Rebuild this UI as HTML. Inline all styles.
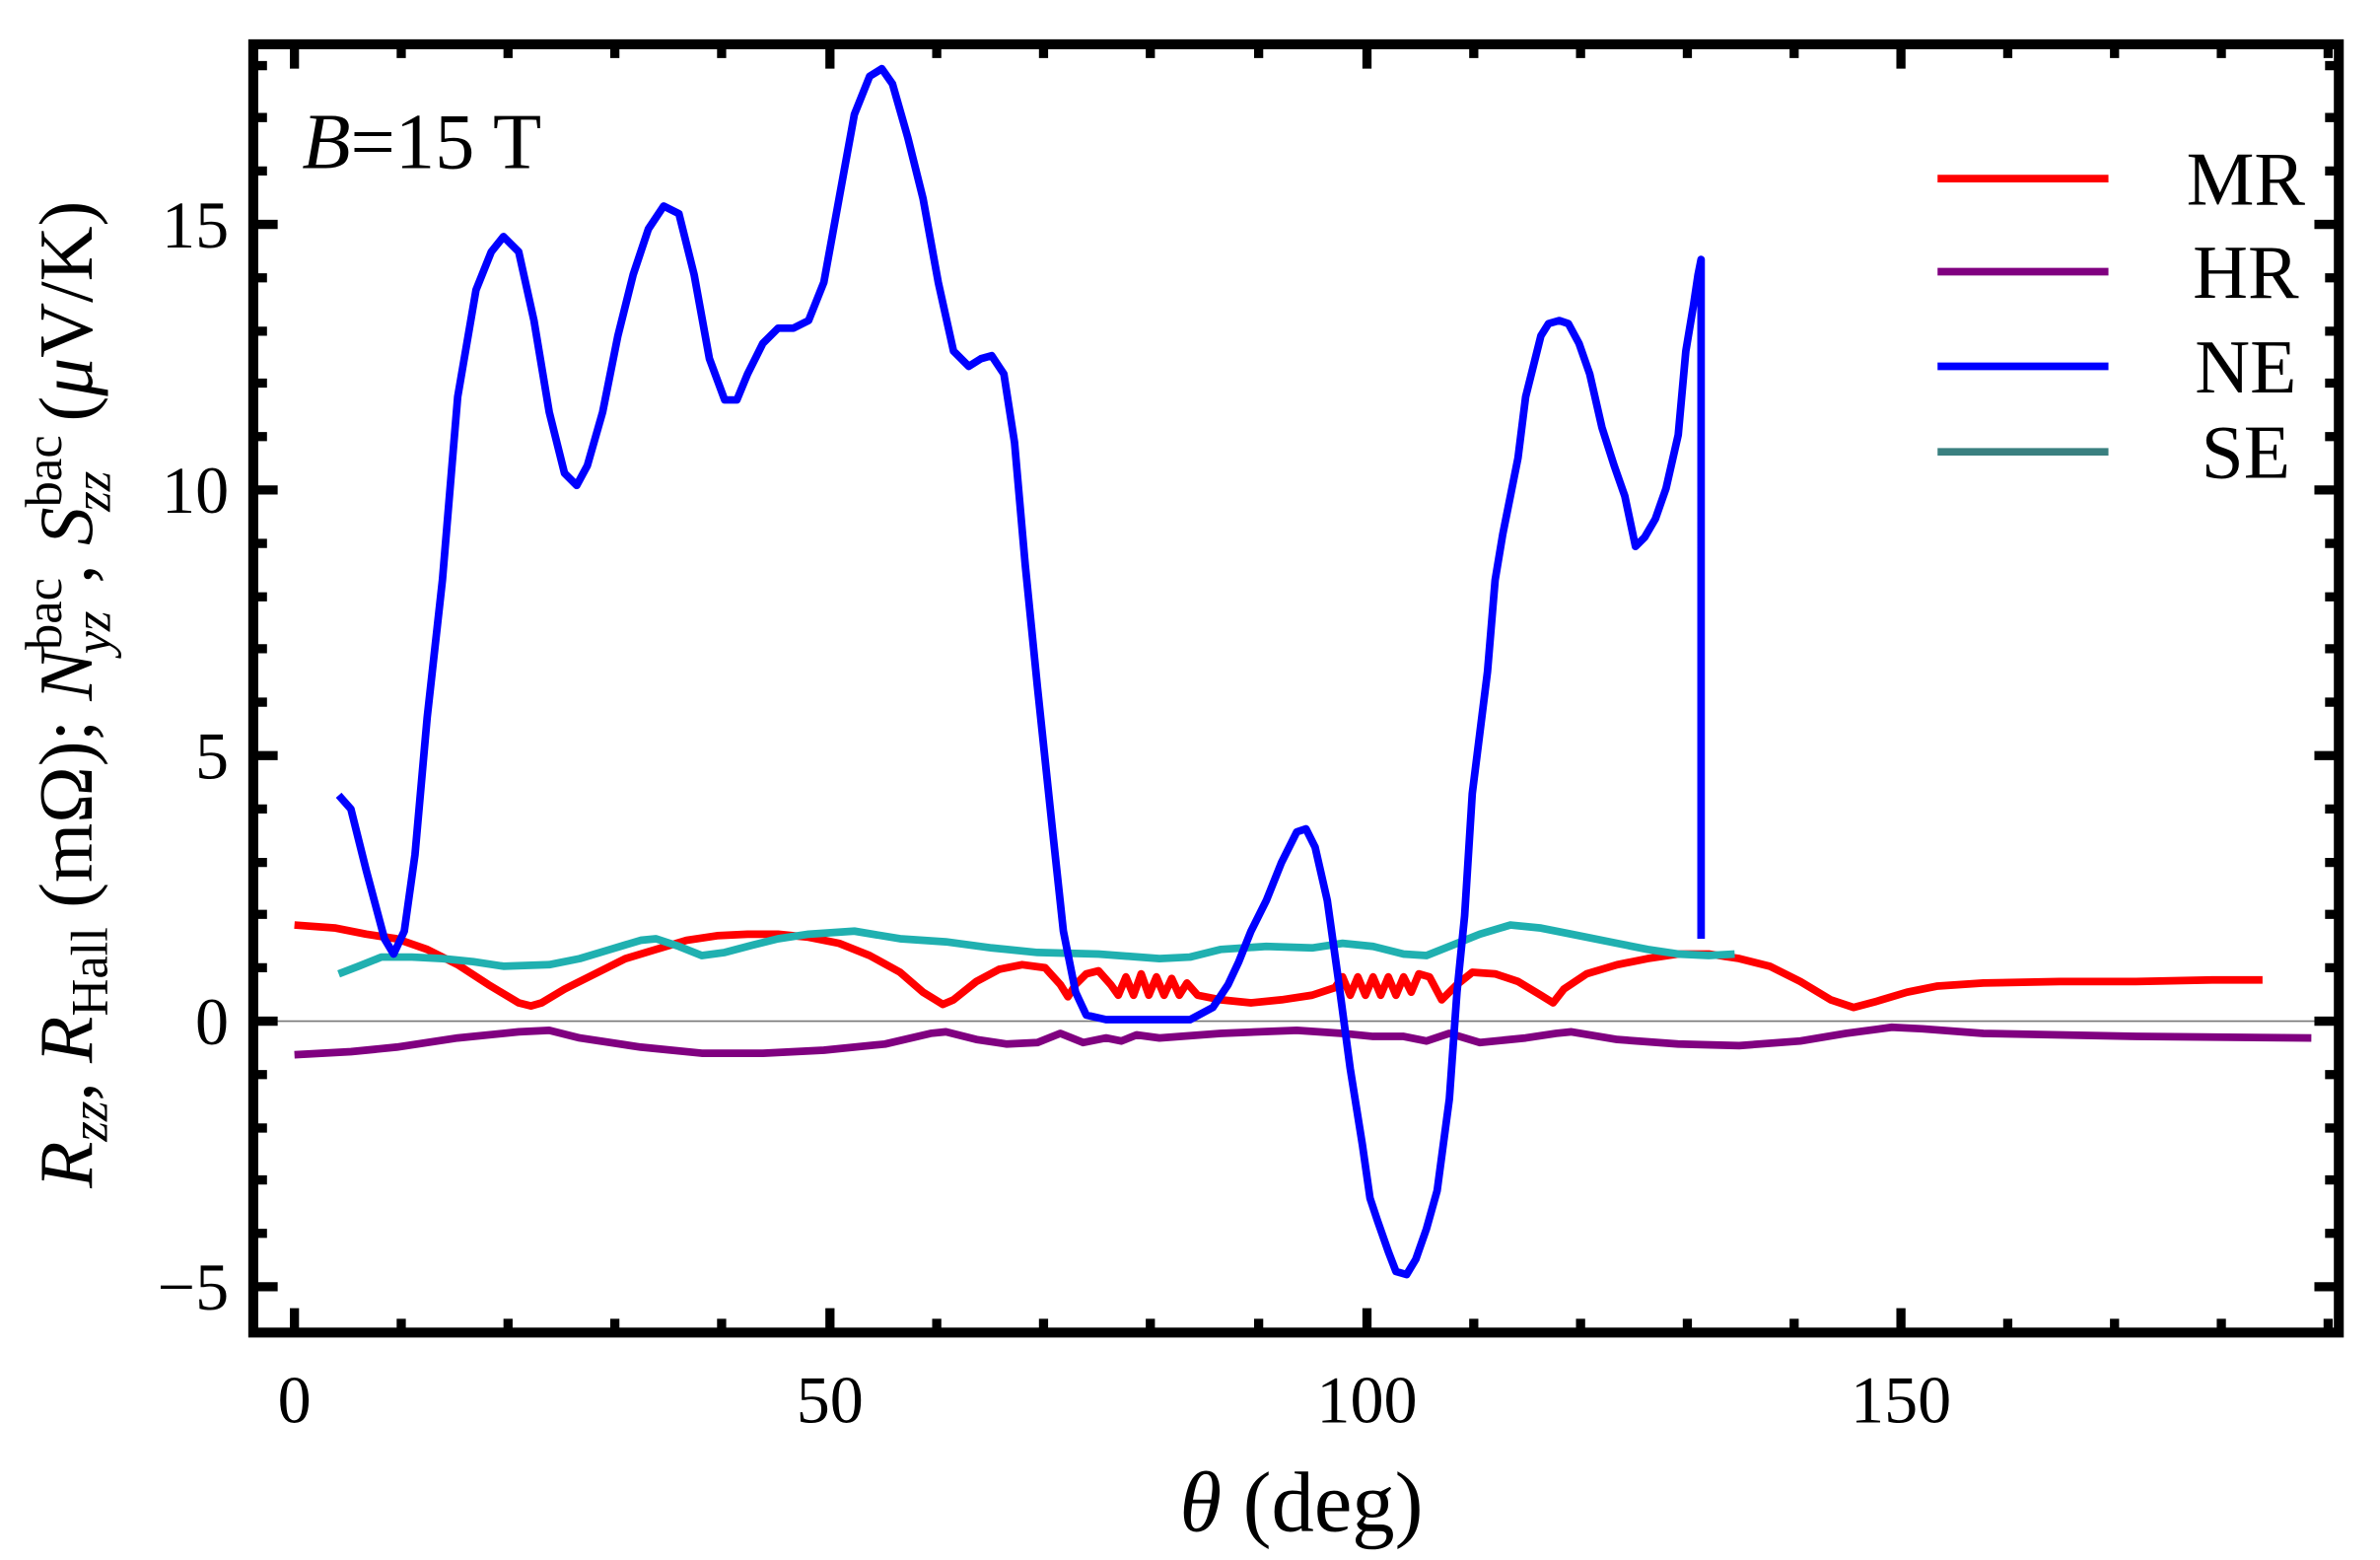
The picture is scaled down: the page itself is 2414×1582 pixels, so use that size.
<!DOCTYPE html>
<html><head><meta charset="utf-8"><style>
html,body{margin:0;padding:0;background:#fff;}
svg{display:block;}
text{font-family:"Liberation Serif",serif;fill:#000;}
</style></head><body>
<svg width="2414" height="1582" viewBox="0 0 1560 1022" preserveAspectRatio="none" xmlns="http://www.w3.org/2000/svg">
<rect x="0" y="0" width="1560" height="1022" fill="#fff"/>
<line x1="166" y1="669" x2="1533" y2="669" stroke="#777" stroke-width="1"/>
<g stroke="#000" stroke-width="6">
<path d="M193,873v-16M544,873v-16M896,873v-16M1246,873v-16M193,29v16M544,29v16M896,29v16M1246,29v16"/>
<path d="M263,873v-9M333,873v-9M403,873v-9M473,873v-9M614,873v-9M684,873v-9M754,873v-9M825,873v-9M966,873v-9M1036,873v-9M1106,873v-9M1176,873v-9M1316,873v-9M1386,873v-9M1456,873v-9M1526,873v-9
M263,29v9M333,29v9M403,29v9M473,29v9M614,29v9M684,29v9M754,29v9M825,29v9M966,29v9M1036,29v9M1106,29v9M1176,29v9M1316,29v9M1386,29v9M1456,29v9M1526,29v9"/>
<path d="M166,843h16M166,669h16M166,495h16M166,321h16M166,147h16M1533,843h-16M1533,669h-16M1533,495h-16M1533,321h-16M1533,147h-16"/>
<path d="M166,808h9M166,773h9M166,739h9M166,704h9M166,634h9M166,599h9M166,565h9M166,530h9M166,460h9M166,425h9M166,391h9M166,356h9M166,286h9M166,251h9M166,217h9M166,182h9M166,112h9M166,77h9M166,43h9
M1533,808h-9M1533,773h-9M1533,739h-9M1533,704h-9M1533,634h-9M1533,599h-9M1533,565h-9M1533,530h-9M1533,460h-9M1533,425h-9M1533,391h-9M1533,356h-9M1533,286h-9M1533,251h-9M1533,217h-9M1533,182h-9M1533,112h-9M1533,77h-9M1533,43h-9"/>
</g>
<rect x="166" y="29" width="1367" height="844" fill="none" stroke="#000" stroke-width="6.5"/>
<g font-size="44" text-anchor="middle">
<text x="193" y="932">0</text><text x="544" y="932">50</text><text x="896" y="932">100</text><text x="1246" y="932">150</text>
</g>
<g font-size="44" text-anchor="end">
<text x="150" y="858">−5</text><text x="150" y="684">0</text><text x="150" y="510">5</text><text x="150" y="336">10</text><text x="150" y="162">15</text>
</g>
<g fill="none" stroke-width="5" stroke-linejoin="round">
<polyline stroke="#ff0000" points="193,606 220,608 240,612 260,615 280,622 300,632 320,645 340,657 348,659 355,657 370,648 390,638 410,628 430,622 450,616 470,613 490,612 510,612 530,614 550,618 570,626 590,637 605,650 618,658 625,655 640,643 655,635 670,632 685,634 695,645 700,653 705,645 712,638 720,636 728,645 733,652 738,640 743,652 748,638 753,652 758,640 763,652 768,641 773,652 778,644 785,652 800,655 820,657 840,655 860,652 875,647 880,640 885,652 890,640 895,652 900,640 905,652 910,640 915,652 920,640 925,650 930,638 937,640 945,655 955,645 965,637 980,638 995,643 1010,652 1018,657 1025,648 1040,638 1060,632 1080,628 1100,625 1120,625 1140,628 1160,633 1180,643 1200,655 1215,660 1230,656 1250,650 1270,646 1300,644 1350,643 1400,643 1450,642 1483,642"/>
<polyline stroke="#800080" points="193,691 230,689 260,686 300,680 340,676 360,675 380,680 420,686 460,690 500,690 540,688 580,684 610,677 620,676 640,681 660,684 680,683 695,677 710,683 725,680 735,682 745,678 760,680 800,677 850,675 880,677 900,679 920,679 935,682 950,677 970,683 1000,680 1020,677 1030,676 1060,681 1100,684 1140,685 1180,682 1210,677 1240,673 1260,674 1300,677 1400,679 1515,680"/>
<polyline stroke="#20b0b0" points="222,638 235,633 250,627 270,627 290,628 310,630 330,633 360,632 380,628 400,622 420,616 430,615 445,620 460,626 475,624 490,620 510,615 530,612 560,610 590,615 620,617 650,621 680,624 720,625 760,628 780,627 800,622 830,620 860,621 880,618 900,620 920,625 935,626 950,620 970,612 990,606 1010,608 1030,612 1060,618 1080,622 1100,625 1120,626 1137,625"/>
<polyline stroke="#0000ff" points="222,521 230,530 240,570 252,615 258,625 265,610 272,560 280,470 290,380 300,260 312,190 322,165 330,155 340,165 350,210 360,270 370,310 378,318 385,305 395,270 405,220 415,180 425,150 435,135 445,140 455,180 465,235 475,262 483,262 490,245 500,225 510,215 520,215 530,210 540,185 550,130 560,75 570,50 578,45 585,55 595,90 605,130 615,185 625,230 635,240 643,235 650,233 658,245 665,290 672,370 680,450 690,545 697,610 705,650 712,665 725,668 760,668 780,668 795,660 805,645 812,630 820,610 830,590 840,565 850,545 856,543 862,555 870,590 877,640 885,700 893,750 898,785 903,800 910,820 915,833 922,835 928,825 935,805 942,780 950,720 955,650 960,600 965,520 970,480 975,440 980,380 985,350 990,325 995,300 1000,260 1005,240 1010,220 1015,212 1022,210 1028,212 1035,225 1042,245 1050,280 1058,305 1065,325 1072,358 1078,352 1085,340 1092,320 1100,285 1105,230 1110,200 1113,180 1115,170 1115,615"/>
</g>
<g stroke-width="5">
<line x1="1270" y1="117" x2="1382" y2="117" stroke="#ff0000"/>
<line x1="1270" y1="178" x2="1382" y2="178" stroke="#800080"/>
<line x1="1270" y1="240" x2="1382" y2="240" stroke="#0000ff"/>
<line x1="1270" y1="296" x2="1382" y2="296" stroke="#3a8080"/>
</g>
<g font-size="50" text-anchor="middle">
<text x="1472" y="134">MR</text><text x="1472" y="195">HR</text><text x="1472" y="257">NE</text><text x="1472" y="313">SE</text>
</g>
<text x="198" y="110" font-size="52"><tspan font-style="italic">B</tspan>=15 T</text>
<text x="853" y="1003" font-size="56" text-anchor="middle"><tspan font-style="italic">θ</tspan> (deg)</text>
<text transform="translate(60,455) rotate(-90)" font-size="50" text-anchor="middle"><tspan font-style="italic">R</tspan><tspan font-style="italic" font-size="34" dy="10">zz</tspan><tspan dy="-10">, </tspan><tspan font-style="italic">R</tspan><tspan font-size="34" dy="10">Hall</tspan><tspan dy="-10"> (mΩ); </tspan><tspan font-style="italic">N</tspan><tspan font-size="34" dy="-20">bac</tspan><tspan font-style="italic" font-size="34" dx="-50" dy="32">yz</tspan><tspan dx="18" dy="-12">, </tspan><tspan font-style="italic">S</tspan><tspan font-size="34" dy="-20">bac</tspan><tspan font-style="italic" font-size="34" dx="-50" dy="32">zz</tspan><tspan dx="20" dy="-12"> (</tspan><tspan font-style="italic">μ</tspan><tspan>V/K)</tspan></text>
</svg>
</body></html>
